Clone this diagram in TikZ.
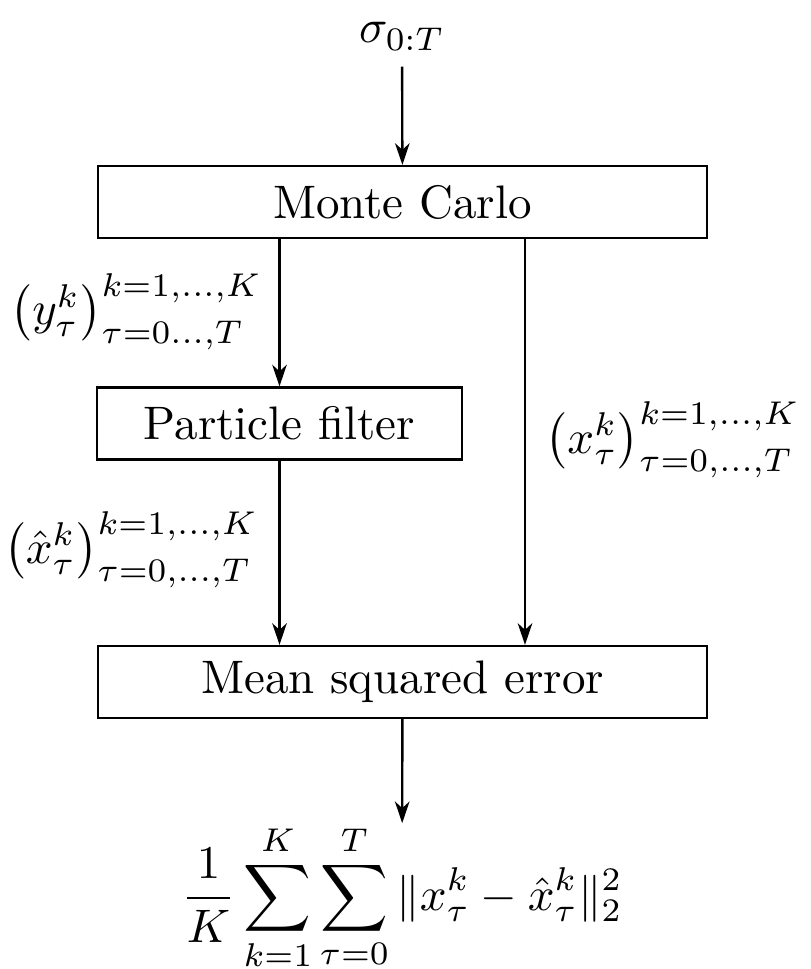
\documentclass[tikz,border=0pt]{standalone}
\usepackage{amsmath}
\usetikzlibrary{arrows.meta}
\begin{document}
\begin{tikzpicture}[x=0.21277pt,y=-0.21277pt,
  arr/.style={draw,line width=0.5pt,-{Stealth[length=4.6pt,width=3.1pt,inset=1.4pt]}},
  wide/.style={draw,line width=0.5pt,inner sep=0pt,minimum width=129.6pt,minimum height=15.3pt},
  narrow/.style={draw,line width=0.5pt,inner sep=0pt,minimum width=77.7pt,minimum height=15.3pt},
  lbl/.style={inner sep=0pt}]
\useasboundingbox (0,0) rectangle (810,969);
\node (sig) [anchor=base] at (402,43) {$\sigma_{0:T}$};
\node (mc) [wide] at (402.5,202) {Monte Carlo};
\node (pf) [narrow] at (279.5,423.5) {Particle filter};
\node (mse) [wide] at (402.5,682) {Mean squared error};
\node (res) [anchor=base,inner sep=0pt] at (402,910)
  {$\displaystyle \frac{1}{K}\sum_{k=1}^{K}\sum_{\tau=0}^{T}\|x^k_\tau-\hat{x}^k_\tau\|_2^2$};
\coordinate (mcr) at (525,238);
\draw[arr] (sig) -- (mc);
\draw[arr] (mc.south -| pf) -- (pf);
\draw[arr] (pf) -- (pf |- mse.north);
\draw[arr] (mc.south -| mcr) -- (mcr |- mse.north);
\draw[arr] (mse) -- (res);
\node (ly) [lbl,anchor=base east] at (263,325)
  {$\bigl(y^k_\tau\bigr)^{k=1,\ldots,K}_{\tau=0\ldots,T}$};
\node (lx) [lbl,anchor=base west] at (545,453)
  {$\bigl(x^k_\tau\bigr)^{k=1,\ldots,K}_{\tau=0,\ldots,T}$};
\node (lxh) [lbl,anchor=base east] at (259,563)
  {$\bigl(\hat{x}^k_\tau\bigr)^{k=1,\ldots,K}_{\tau=0,\ldots,T}$};
\end{tikzpicture}
\end{document}
